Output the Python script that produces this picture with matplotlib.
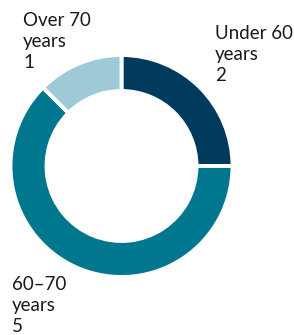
import matplotlib.pyplot as plt

# age groups of the board
labels = ['Under 60\nyears', '60–70\nyears', 'Over 70\nyears']
counts = [2, 5, 1]
colors = ['#003a5d', '#00768f', '#9ec9d6']

# where each label sits (figure pixels, last baseline)
label_pos = [(215, 81), (12, 332), (23, 68)]

W, H = 294, 335
fig = plt.figure(figsize=(W / 100, H / 100), dpi=100)
ax = fig.add_axes([0, 0, 1, 1])

cx, cy, r = 121.5, H - 166, 111
ax.pie(counts, colors=colors, startangle=90, counterclock=False,
       center=(cx, cy), radius=r,
       wedgeprops=dict(width=36, edgecolor='white', linewidth=2.8))
ax.set_xlim(0, W)
ax.set_ylim(0, H)
ax.set_aspect('equal')
ax.axis('off')

for lab, n, (x, y) in zip(labels, counts, label_pos):
    fig.text(x / W, 1 - y / H, f'{lab}\n{n}', fontsize=13.5, family='Lato',
             ha='left', va='baseline', linespacing=1.3, color='#1a1a1a')

fig.savefig('out.png', dpi=100)
